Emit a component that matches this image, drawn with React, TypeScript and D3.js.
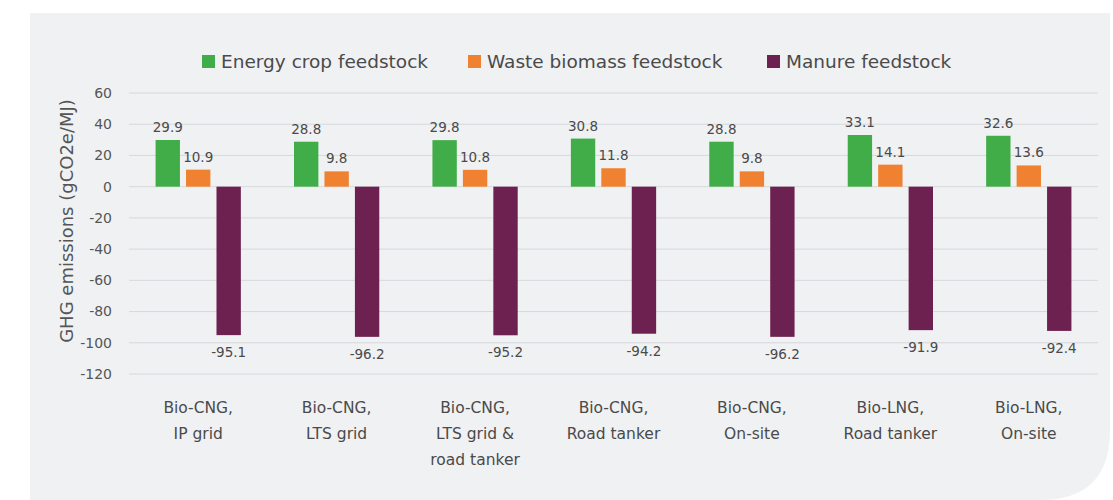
import { useEffect, useRef } from "react";
import * as d3 from "d3";

const categories = [
  ["Bio-CNG,", "IP grid"],
  ["Bio-CNG,", "LTS grid"],
  ["Bio-CNG,", "LTS grid &", "road tanker"],
  ["Bio-CNG,", "Road tanker"],
  ["Bio-CNG,", "On-site"],
  ["Bio-LNG,", "Road tanker"],
  ["Bio-LNG,", "On-site"],
];
const seriesNames = ["Energy crop feedstock", "Waste biomass feedstock", "Manure feedstock"];
const energyCrop = [29.9, 28.8, 29.8, 30.8, 28.8, 33.1, 32.6];
const wasteBiomass = [10.9, 9.8, 10.8, 11.8, 9.8, 14.1, 13.6];
const manure = [-95.1, -96.2, -95.2, -94.2, -96.2, -91.9, -92.4];
const yTicks = [60, 40, 20, 0, -20, -40, -60, -80, -100, -120];

const COLORS = ["#40ad48", "#ef8130", "#6d2150"];
const FONT = "'DejaVu Sans', sans-serif";
const TEXT = "#4a4a4a";

export default function App() {
  const ref = useRef<SVGSVGElement>(null);

  useEffect(() => {
    if (!ref.current) return;
    const w = 1113;
    const h = 500;
    const m = { left: 129, right: 1098 };

    const svg = d3.select(ref.current);
    svg.selectAll("*").remove();
    svg.attr("width", w).attr("height", h).attr("viewBox", `0 0 ${w} ${h}`);

    // panel background with rounded lower-right corner
    const px0 = 30, py0 = 13, px1 = 1110, r = 70;
    svg
      .append("path")
      .attr("d", `M${px0},${py0} H${px1} V${h - r} Q${px1},${h} ${px1 - r},${h} H${px0} Z`)
      .attr("fill", "#f0f1f3");

    const keys = categories.map((c) => c.join(" "));
    const x0 = d3.scaleBand().domain(keys).range([m.left, m.right]).paddingInner(0.34).paddingOuter(0.17);
    const x1 = d3.scaleBand().domain(seriesNames).range([0, x0.bandwidth()]).paddingInner(0.2).paddingOuter(0.1);
    const y = d3.scaleLinear().domain([-120, 60]).range([374, 93]);

    // gridlines
    svg
      .append("g")
      .selectAll("line")
      .data(yTicks)
      .join("line")
      .attr("x1", m.left)
      .attr("x2", m.right)
      .attr("y1", (d) => y(d))
      .attr("y2", (d) => y(d))
      .attr("stroke", "#d6d8db")
      .attr("stroke-width", 1);

    svg
      .append("g")
      .selectAll("text")
      .data(yTicks)
      .join("text")
      .attr("x", 112)
      .attr("y", (d) => y(d))
      .attr("dy", "0.35em")
      .attr("text-anchor", "end")
      .attr("font-family", FONT)
      .attr("font-size", 14)
      .attr("fill", "#555")
      .text((d) => d);

    svg
      .append("text")
      .attr("transform", `translate(73,221) rotate(-90)`)
      .attr("text-anchor", "middle")
      .attr("font-family", FONT)
      .attr("font-size", 18)
      .attr("fill", "#555")
      .text("GHG emissions (gCO2e/MJ)");

    const series = [energyCrop, wasteBiomass, manure];
    const data = series.flatMap((vals, si) =>
      vals.map((v, ci) => ({ key: keys[ci], s: seriesNames[si], si, v }))
    );

    svg
      .append("g")
      .selectAll("rect")
      .data(data)
      .join("rect")
      .attr("x", (d) => x0(d.key)! + x1(d.s)!)
      .attr("width", x1.bandwidth())
      .attr("y", (d) => y(Math.max(0, d.v)))
      .attr("height", (d) => Math.abs(y(d.v) - y(0)))
      .attr("fill", (d) => COLORS[d.si]);

    svg
      .append("g")
      .selectAll("text")
      .data(data)
      .join("text")
      .attr("x", (d) => x0(d.key)! + x1(d.s)! + x1.bandwidth() / 2)
      .attr("y", (d) => (d.v >= 0 ? y(d.v) - 8 : y(d.v) + 22))
      .attr("text-anchor", "middle")
      .attr("font-family", FONT)
      .attr("font-size", 13.5)
      .attr("fill", TEXT)
      .text((d) => d.v.toFixed(1));

    // category labels
    const cat = svg
      .append("g")
      .selectAll("text")
      .data(categories)
      .join("text")
      .attr("x", (_, i) => x0(keys[i])! + x0.bandwidth() / 2)
      .attr("y", 413)
      .attr("text-anchor", "middle")
      .attr("font-family", FONT)
      .attr("font-size", 15.5)
      .attr("fill", TEXT);
    cat
      .selectAll("tspan")
      .data((d) => d)
      .join("tspan")
      .attr("x", function () {
        return (this.parentNode as SVGTextElement).getAttribute("x");
      })
      .attr("dy", (_, i) => (i === 0 ? 0 : 26))
      .text((d) => d);

    // legend
    const legendX = [202, 468, 767];
    const lg = svg
      .append("g")
      .selectAll("g")
      .data(seriesNames)
      .join("g")
      .attr("transform", (_, i) => `translate(${legendX[i]},55)`);
    lg.append("rect").attr("width", 13).attr("height", 13).attr("fill", (_, i) => COLORS[i]);
    lg.append("text")
      .attr("x", 19)
      .attr("y", 7)
      .attr("dy", "0.35em")
      .attr("font-family", FONT)
      .attr("font-size", 18.5)
      .attr("fill", TEXT)
      .text((d) => d);
  }, []);

  return <svg ref={ref} style={{ position: "fixed", left: 0, top: 0, background: "#fff" }} />;
}
